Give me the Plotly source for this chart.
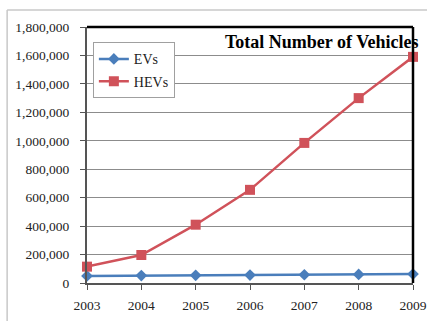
import plotly.graph_objects as go

years = [2003, 2004, 2005, 2006, 2007, 2008, 2009]
evs = [50000, 52000, 54000, 56000, 58000, 60000, 63000]
hevs = [115000, 197000, 410000, 655000, 985000, 1300000, 1590000]
y_ticks = list(range(0, 1800001, 200000))

SERIF = "Liberation Serif"
fig = go.Figure()
fig.add_trace(go.Scatter(x=years, y=evs, name="EVs", mode="lines+markers",
                         line=dict(color="#4A7EBB", width=2.5),
                         marker=dict(symbol="diamond", size=9, color="#4A7EBB"),
                         cliponaxis=False, legendgroup="a"))
fig.add_trace(go.Scatter(x=years, y=hevs, name="HEVs", mode="lines+markers",
                         line=dict(color="#D0525A", width=2.5),
                         marker=dict(symbol="square", size=10, color="#D0525A"),
                         cliponaxis=False, legendgroup="b"))

fig.update_layout(
    width=427, height=321,
    margin=dict(l=87, r=14, t=27, b=38),
    paper_bgcolor="white", plot_bgcolor="white",
    font=dict(family=SERIF, size=13, color="#222"),
    showlegend=True,
    legend=dict(x=0.018, y=0.94, xanchor="left", yanchor="top",
                bordercolor="#A0A0A0", borderwidth=1, bgcolor="white",
                font=dict(family=SERIF, size=14, color="#222"),
                tracegroupgap=1, traceorder="grouped"),
    xaxis=dict(range=[2003, 2009], tickmode="array", tickvals=years,
               ticktext=[str(y) for y in years], showgrid=False,
               showline=True, linecolor="#555", linewidth=2,
               ticks="outside", ticklen=5, tickcolor="#555",
               ticklabelstandoff=4, automargin=False,
               zeroline=False, tickfont=dict(size=13.5)),
    yaxis=dict(range=[0, 1800000], tickvals=y_ticks,
               ticktext=[f"{v:,}" for v in y_ticks],
               showgrid=True, gridcolor="#8C8C8C", gridwidth=1,
               showline=True, linecolor="#555", linewidth=2,
               ticks="outside", ticklen=5, tickcolor="#555",
               ticklabelstandoff=8, automargin=False,
               zeroline=False, tickfont=dict(size=13.5)),
    shapes=[
        dict(type="line", xref="paper", yref="paper", x0=0, x1=1, y0=1, y1=1,
             line=dict(color="black", width=2.5)),
        dict(type="line", xref="paper", yref="paper", x0=1, x1=1, y0=0, y1=1,
             line=dict(color="black", width=2.5)),
        dict(type="line", xref="paper", yref="paper", x0=-0.245, x1=1.1, y0=1.066, y1=1.066,
             line=dict(color="#C8C8C8", width=1.5)),
        dict(type="line", xref="paper", yref="paper", x0=-0.245, x1=-0.245, y0=-0.2, y1=1.066,
             line=dict(color="#C8C8C8", width=1.5)),
    ],
    annotations=[dict(text="<b>Total Number of Vehicles</b>", xref="paper", yref="paper",
                      x=1.025, y=0.94, xanchor="right", yanchor="middle", showarrow=False,
                      font=dict(family=SERIF, size=18, color="black"))],
)

fig.write_html("out.html")
